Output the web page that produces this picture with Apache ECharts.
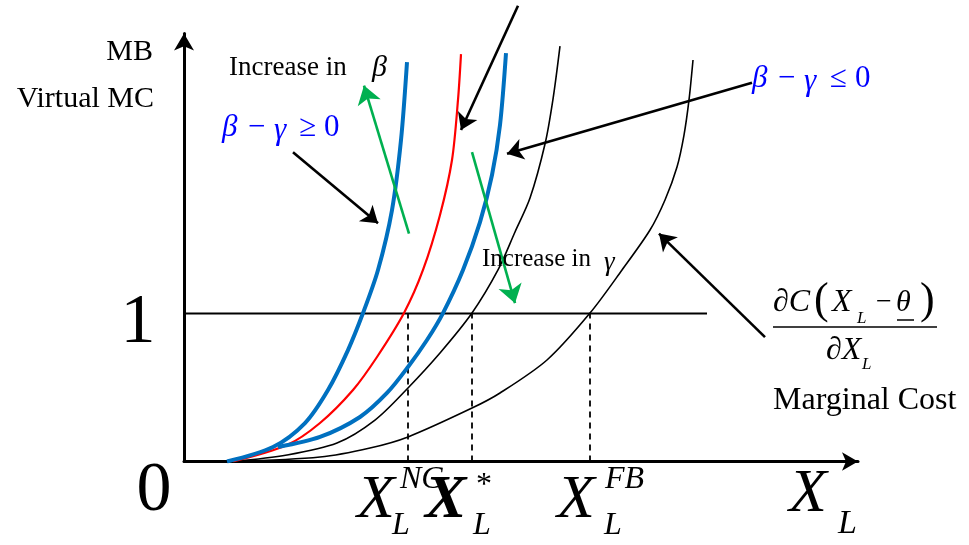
<!DOCTYPE html>
<html>
<head>
<meta charset="utf-8">
<script src="https://cdn.jsdelivr.net/npm/echarts@6/dist/echarts.min.js"></script>
<style>
  html, body { margin: 0; padding: 0; background: #ffffff; }
  #main { width: 969px; height: 545px; }
</style>
</head>
<body>
<div id="main"></div>
<script>
// Marginal benefit / virtual marginal cost curves, as [X_L, value] pairs.
const mbSteepBlue = [[0.43,0],[0.89,0.098],[1.21,0.260],[1.44,0.483],[1.64,0.753],[1.79,1.003],[1.94,1.294],[2.08,1.699],[2.17,2.172],[2.23,2.699]];
const mbRed       = [[0.49,0],[1.03,0.111],[1.36,0.260],[1.69,0.483],[1.93,0.706],[2.20,1.003],[2.39,1.294],[2.56,1.666],[2.68,2.037],[2.74,2.443],[2.77,2.753]];
const mbFlatBlue  = [[0.94,0.098],[1.36,0.166],[1.76,0.301],[2.03,0.463],[2.24,0.639],[2.43,0.821],[2.59,1.003],[2.79,1.294],[2.96,1.618],[3.08,1.936],[3.16,2.274],[3.22,2.760]];
const mcVirtual   = [[0.49,0],[1.03,0.044],[1.53,0.125],[1.91,0.280],[2.24,0.497],[2.56,0.733],[2.88,1.003],[3.14,1.294],[3.31,1.551],[3.46,1.780],[3.61,2.145],[3.69,2.449],[3.76,2.807]];
const mcTrue      = [[0.49,0],[1.36,0.030],[1.86,0.091],[2.24,0.166],[2.88,0.361],[3.16,0.463],[3.63,0.686],[4.06,1.003],[4.38,1.294],[4.66,1.564],[4.81,1.767],[4.93,1.990],[5.00,2.206],[5.05,2.443],[5.09,2.713]];

// Benefit level and the three quantities where curves meet it
const benefitLevel = 1;
const benefitLineEnd = 5.23;
const crossingX = [2.24, 2.88, 4.06]; // X_L^NC, X_L^*, X_L^FB

// Annotation arrows: [from, to] in axis units
const blackArrows = [
  [[1.09, 2.09], [1.94, 1.61]],
  [[3.34, 3.08], [2.77, 2.24]],
  [[5.68, 2.56], [3.23, 2.08]],
  [[5.81, 0.84], [4.75, 1.54]]
];
const greenArrows = [
  [[2.25, 1.54], [1.80, 2.54]],
  [[2.88, 2.09], [3.31, 1.07]]
];

const SERIF = '"Liberation Serif", "Times New Roman", serif';
const BLUE_TXT = '#0000FF';

function curve(name, data, color, width, z) {
  return {
    name, type: 'line', data, z,
    showSymbol: false, symbol: 'none',
    smooth: 0.3,
    lineStyle: { color, width, cap: 'butt' },
    silent: true
  };
}

function txt(x, y, text, o) {
  o = o || {};
  return {
    type: 'text', x, y, z: 100,
    style: {
      text,
      fontFamily: SERIF,
      fontSize: o.size || 30,
      fontStyle: o.italic ? 'italic' : 'normal',
      fontWeight: o.bold ? 'bold' : 'normal',
      fill: o.color || '#000',
      align: o.align || 'left',
      verticalAlign: 'middle'
    }
  };
}

const dashedSeries = crossingX.map((x, i) => ({
  name: 'drop' + i, type: 'line', z: 1, silent: true,
  showSymbol: false, symbol: 'none',
  data: [[x, 0], [x, benefitLevel]],
  lineStyle: { color: '#000', width: 1.8, type: [6, 5] }
}));

const chart = echarts.init(document.getElementById('main'), null, { renderer: 'canvas' });

chart.setOption({
  animation: false,
  backgroundColor: '#ffffff',
  grid: { left: 184, right: 111, top: 33.5, bottom: 83.5 },
  xAxis: {
    type: 'value', min: 0, max: 6.74,
    axisLine: { show: true, onZero: true, lineStyle: { color: '#000', width: 3 },
                symbol: ['none', 'arrow'], symbolSize: [14, 16] },
    axisTick: { show: false }, axisLabel: { show: false }, splitLine: { show: false }
  },
  yAxis: {
    type: 'value', min: 0, max: 2.892,
    axisLine: { show: true, lineStyle: { color: '#000', width: 3 },
                symbol: ['none', 'arrow'], symbolSize: [15, 17] },
    axisTick: { show: false }, axisLabel: { show: false }, splitLine: { show: false }
  },
  series: [
    {
      name: 'benefit', type: 'line', z: 1, silent: true, showSymbol: false, symbol: 'none',
      data: [[0, benefitLevel], [benefitLineEnd, benefitLevel]],
      lineStyle: { color: '#000', width: 1.8 }
    },
    ...dashedSeries,
    curve('mcTrue', mcTrue, '#000', 1.6, 2),
    curve('mcVirtual', mcVirtual, '#000', 1.6, 2),
    curve('mbRed', mbRed, '#FF0000', 2.2, 3),
    curve('mbFlatBlue', mbFlatBlue, '#0070C0', 4, 4),
    curve('mbSteepBlue', mbSteepBlue, '#0070C0', 4, 4),
    {
      name: 'pointers', type: 'lines', coordinateSystem: 'cartesian2d', z: 5, clip: false, silent: true,
      symbol: ['none', 'arrow'], symbolSize: [14, 16],
      lineStyle: { color: '#000', width: 2.6, opacity: 1, curveness: 0 },
      data: blackArrows.map(a => ({ coords: a }))
    },
    {
      name: 'shifts', type: 'lines', coordinateSystem: 'cartesian2d', z: 5, clip: false, silent: true,
      symbol: ['none', 'arrow'], symbolSize: [15, 18],
      lineStyle: { color: '#00B050', width: 2.6, opacity: 1, curveness: 0 },
      data: greenArrows.map(a => ({ coords: a }))
    }
  ],
  graphic: [
    // vertical axis title
    txt(153, 52, 'MB', { align: 'right', size: 30 }),
    txt(154, 99, 'Virtual MC', { align: 'right', size: 30 }),
    // axis values
    txt(138, 324, '1', { align: 'center', size: 70 }),
    txt(154, 492, '0', { align: 'center', size: 70 }),
    // shift notes
    txt(229, 68, 'Increase in', { size: 27 }),
    txt(372, 68, 'β', { size: 30, italic: true }),
    txt(482, 259, 'Increase in', { size: 25 }),
    txt(604, 263, 'γ', { size: 27, italic: true }),
    // parameter conditions
    txt(222, 128, 'β', { size: 31, italic: true, color: BLUE_TXT }),
    txt(248, 128, '−', { size: 31, color: BLUE_TXT }),
    txt(274, 131, 'γ', { size: 31, italic: true, color: BLUE_TXT }),
    txt(299, 128, '≥', { size: 31, color: BLUE_TXT }),
    txt(324, 128, '0', { size: 31, color: BLUE_TXT }),
    txt(752, 79, 'β', { size: 31, italic: true, color: BLUE_TXT }),
    txt(778, 79, '−', { size: 31, color: BLUE_TXT }),
    txt(804, 82, 'γ', { size: 31, italic: true, color: BLUE_TXT }),
    txt(830, 79, '≤', { size: 31, color: BLUE_TXT }),
    txt(855, 79, '0', { size: 31, color: BLUE_TXT }),
    // marginal cost expression
    txt(773, 303, '∂C', { size: 32, italic: true }),
    txt(814, 301, '(', { size: 44 }),
    txt(832, 303, 'X', { size: 32, italic: true }),
    txt(857, 319, 'L', { size: 17, italic: true }),
    txt(876, 303, '−', { size: 28 }),
    txt(896, 303, 'θ', { size: 30, italic: true }),
    txt(920, 301, ')', { size: 44 }),
    { type: 'line', z: 100, shape: { x1: 897, y1: 320, x2: 914, y2: 320 }, style: { stroke: '#000', lineWidth: 1.5 } },
    { type: 'line', z: 100, shape: { x1: 773, y1: 327, x2: 937, y2: 327 }, style: { stroke: '#000', lineWidth: 1.6 } },
    txt(826, 351, '∂X', { size: 32, italic: true }),
    txt(862, 365, 'L', { size: 17, italic: true }),
    txt(773, 401, 'Marginal Cost', { size: 32 }),
    // equilibrium quantities
    txt(357, 501, 'X', { size: 62, italic: true }),
    txt(400, 480, 'NC', { size: 32, italic: true }),
    txt(392, 526, 'L', { size: 32, italic: true }),
    txt(425, 501, 'X', { size: 62, italic: true, bold: true }),
    txt(476, 486, '*', { size: 32 }),
    txt(473, 526, 'L', { size: 32, italic: true }),
    txt(557, 501, 'X', { size: 62, italic: true }),
    txt(605, 480, 'FB', { size: 32, italic: true }),
    txt(604, 526, 'L', { size: 32, italic: true }),
    // horizontal axis title
    txt(789, 495, 'X', { size: 62, italic: true }),
    txt(838, 524, 'L', { size: 34, italic: true })
  ]
});
</script>
</body>
</html>
